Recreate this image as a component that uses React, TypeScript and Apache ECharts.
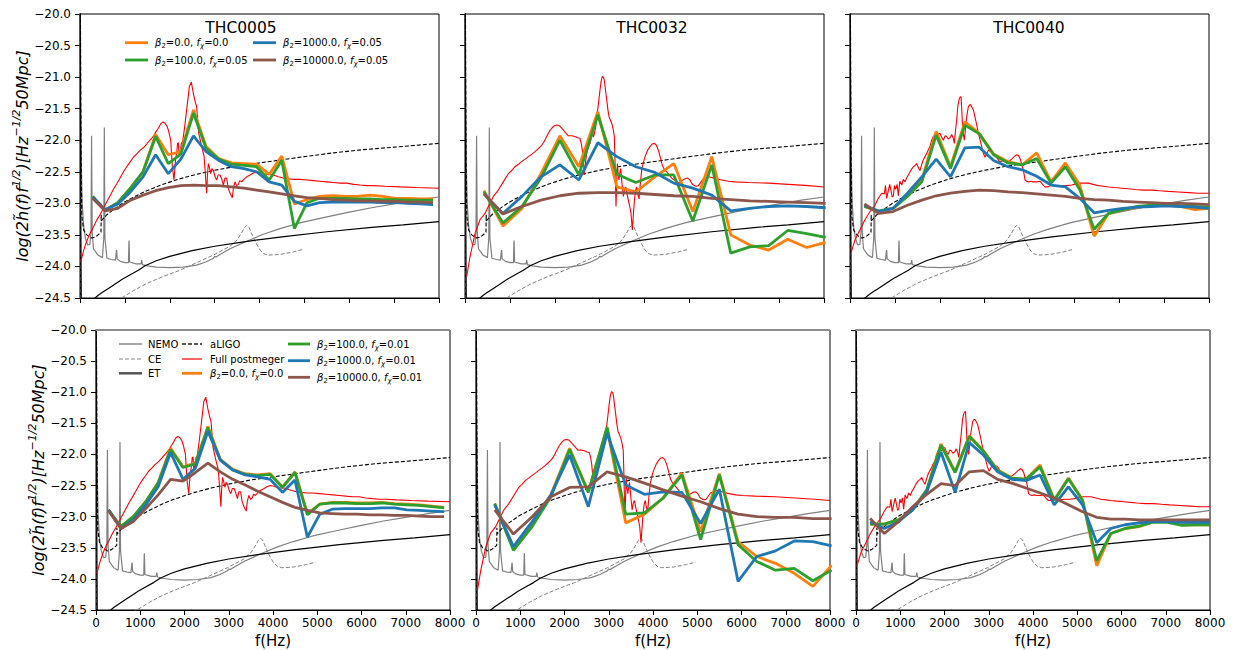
import React, { useEffect, useRef } from 'react';
import * as echarts from 'echarts';

const FONT = 'DejaVu Sans';

const MODELS = ['THC0005', 'THC0032', 'THC0040'];

// Frequency grids (Hz) of the model spectra
const FREQ_THC0005 = [281,562,843,1124,1405,1686,1967,2248,2529,2810,3091,3372,3653,3934,4215,4496,4777,5058,5339,5620,5901,6182,6463,6744,7025,7306,7587,7868];
const FREQ_THC0032 = [423,846,1269,1692,2115,2538,2961,3384,3807,4230,4653,5076,5499,5922,6345,6768,7191,7614,8037];
const FREQ_THC0040 = [320,640,960,1280,1600,1920,2240,2560,2880,3200,3520,3840,4160,4480,4800,5120,5440,5760,6080,6400,6720,7040,7360,7680,8000];

// THC0005, f_chi = 0.05 (top row)
const T5_TOP_B0 = [-22.89,-23.11,-22.99,-22.76,-22.50,-21.91,-22.23,-22.18,-21.52,-22.10,-22.29,-22.36,-22.37,-22.38,-22.54,-22.25,-23.01,-22.94,-22.89,-22.88,-22.89,-22.89,-22.87,-22.89,-22.92,-22.92,-22.93,-22.93];
const T5_TOP_B100 = [-22.89,-23.11,-22.99,-22.76,-22.50,-21.94,-22.37,-22.22,-21.57,-22.13,-22.30,-22.38,-22.40,-22.42,-22.63,-22.32,-23.40,-22.99,-22.92,-22.92,-22.92,-22.93,-22.93,-22.94,-22.94,-22.95,-22.95,-22.95];
const T5_TOP_B1000 = [-22.90,-23.10,-23.01,-22.82,-22.58,-22.23,-22.53,-22.30,-21.93,-22.18,-22.32,-22.42,-22.45,-22.50,-22.66,-22.71,-22.97,-23.04,-22.99,-22.98,-22.98,-22.98,-22.98,-22.99,-22.99,-23.00,-23.01,-23.02];
const T5_TOP_B10000 = [-22.92,-23.12,-23.08,-22.95,-22.87,-22.80,-22.75,-22.72,-22.71,-22.72,-22.72,-22.74,-22.76,-22.79,-22.82,-22.85,-22.88,-22.91,-22.92,-22.94,-22.95,-22.96,-22.96,-22.97,-22.97,-22.98,-22.98,-22.99];
// THC0005, f_chi = 0.01 (bottom row)
const T5_BOT_B0 = [-22.89,-23.16,-23.00,-22.76,-22.45,-21.90,-22.20,-22.14,-21.55,-22.08,-22.24,-22.31,-22.33,-22.31,-22.52,-22.28,-22.95,-22.80,-22.77,-22.77,-22.78,-22.78,-22.77,-22.79,-22.80,-22.81,-22.83,-22.85];
const T5_BOT_B100 = [-22.89,-23.16,-23.00,-22.76,-22.46,-21.92,-22.21,-22.15,-21.57,-22.09,-22.25,-22.32,-22.34,-22.32,-22.53,-22.29,-22.97,-22.80,-22.78,-22.78,-22.79,-22.79,-22.78,-22.80,-22.81,-22.82,-22.84,-22.86];
const T5_BOT_B1000 = [-22.89,-23.19,-23.05,-22.81,-22.52,-21.97,-22.40,-22.22,-21.63,-22.09,-22.25,-22.33,-22.36,-22.40,-22.61,-22.41,-23.33,-22.96,-22.88,-22.87,-22.87,-22.87,-22.86,-22.86,-22.89,-22.90,-22.91,-22.92];
const T5_BOT_B10000 = [-22.90,-23.19,-23.08,-22.87,-22.65,-22.40,-22.43,-22.29,-22.14,-22.28,-22.40,-22.49,-22.59,-22.68,-22.77,-22.85,-22.90,-22.94,-22.95,-22.96,-22.96,-22.97,-22.97,-22.98,-22.98,-22.99,-23.00,-23.00];

// THC0032
const T32_TOP_B0 = [-22.80,-23.36,-23.08,-22.53,-21.93,-22.42,-21.55,-22.74,-22.82,-22.58,-22.37,-23.13,-22.26,-23.50,-23.66,-23.74,-23.57,-23.70,-23.62];
const T32_TOP_B100 = [-22.82,-23.31,-23.05,-22.60,-22.00,-22.55,-21.60,-22.54,-22.67,-22.55,-22.55,-23.28,-22.39,-23.79,-23.69,-23.67,-23.43,-23.48,-23.54];
const T32_TOP_B1000 = [-22.85,-23.16,-22.89,-22.58,-22.39,-22.63,-22.04,-22.26,-22.42,-22.51,-22.68,-22.76,-22.87,-23.12,-23.08,-23.05,-23.04,-23.05,-23.07];
const T32_TOP_B10000 = [-22.85,-23.17,-23.05,-22.95,-22.88,-22.84,-22.83,-22.83,-22.84,-22.86,-22.88,-22.89,-22.92,-22.94,-22.96,-22.97,-22.98,-22.99,-23.00];
const T32_BOT_B0 = [-22.79,-23.51,-23.13,-22.65,-21.90,-22.60,-21.58,-23.10,-22.96,-22.70,-22.30,-23.24,-22.31,-23.40,-23.64,-23.75,-23.91,-24.12,-23.78];
const T32_BOT_B100 = [-22.79,-23.54,-23.16,-22.68,-21.92,-22.61,-21.56,-22.96,-22.94,-22.70,-22.33,-23.37,-22.33,-23.45,-23.72,-23.86,-23.83,-24.03,-23.86];
const T32_BOT_B1000 = [-22.81,-23.48,-23.08,-22.65,-22.01,-22.84,-21.66,-22.49,-22.64,-22.60,-22.61,-23.11,-22.56,-24.04,-23.64,-23.55,-23.39,-23.40,-23.47];
const T32_BOT_B10000 = [-22.89,-23.28,-23.00,-22.68,-22.53,-22.52,-22.28,-22.36,-22.46,-22.57,-22.67,-22.76,-22.87,-22.96,-23.00,-23.01,-23.01,-23.03,-23.03];

// THC0040
const T40_TOP_B0 = [-23.05,-23.13,-23.08,-22.87,-22.63,-21.86,-22.42,-21.71,-21.89,-22.22,-22.34,-22.39,-22.20,-22.66,-22.36,-22.71,-23.52,-23.16,-23.10,-23.06,-23.04,-23.03,-23.05,-23.10,-23.08];
const T40_TOP_B100 = [-23.05,-23.12,-23.08,-22.89,-22.66,-21.92,-22.45,-21.76,-21.90,-22.23,-22.36,-22.39,-22.29,-22.68,-22.42,-22.78,-23.41,-23.16,-23.10,-23.05,-23.03,-23.01,-23.04,-23.05,-23.06];
const T40_TOP_B1000 = [-23.03,-23.13,-23.08,-22.84,-22.58,-22.30,-22.58,-22.12,-22.11,-22.32,-22.42,-22.47,-22.57,-22.71,-22.74,-22.92,-23.15,-23.11,-23.08,-23.06,-23.05,-23.04,-23.05,-23.06,-23.08];
const T40_TOP_B10000 = [-23.01,-23.16,-23.13,-23.03,-22.95,-22.88,-22.84,-22.81,-22.79,-22.80,-22.82,-22.83,-22.85,-22.87,-22.89,-22.92,-22.94,-22.95,-22.97,-22.98,-22.99,-23.00,-23.00,-23.01,-23.02];
const T40_BOT_B0 = [-23.12,-23.12,-23.05,-22.89,-22.57,-21.83,-22.28,-21.70,-21.94,-22.25,-22.38,-22.40,-22.17,-22.73,-22.38,-22.73,-23.79,-23.27,-23.19,-23.16,-23.08,-23.08,-23.13,-23.13,-23.13];
const T40_BOT_B100 = [-23.12,-23.12,-23.05,-22.89,-22.57,-21.85,-22.29,-21.71,-21.95,-22.26,-22.38,-22.40,-22.20,-22.74,-22.39,-22.74,-23.71,-23.27,-23.19,-23.15,-23.09,-23.09,-23.14,-23.13,-23.13];
const T40_BOT_B1000 = [-23.08,-23.19,-23.08,-22.89,-22.60,-21.96,-22.61,-21.81,-22.01,-22.28,-22.40,-22.42,-22.33,-22.81,-22.52,-22.81,-23.42,-23.19,-23.13,-23.10,-23.08,-23.08,-23.09,-23.09,-23.09];
const T40_BOT_B10000 = [-23.03,-23.27,-23.08,-22.84,-22.64,-22.47,-22.50,-22.28,-22.26,-22.40,-22.46,-22.54,-22.62,-22.70,-22.81,-22.92,-23.01,-23.04,-23.04,-23.05,-23.05,-23.05,-23.05,-23.05,-23.05];

// Full postmerger spectra [f, value]
const RED_THC0005 = [[20,-23.92],[80,-23.75],[149,-23.6],[220,-23.48],[297,-23.38],[370,-23.27],[446,-23.18],[520,-23.08],[594,-22.98],[670,-22.88],[743,-22.78],[820,-22.69],[892,-22.6],[970,-22.5],[1040,-22.42],[1110,-22.35],[1189,-22.27],[1260,-22.22],[1337,-22.16],[1410,-22.12],[1486,-22.06],[1560,-22.0],[1634,-21.94],[1700,-21.86],[1746,-21.81],[1800,-21.74],[1850,-21.71],[1895,-21.73],[1940,-21.78],[1969,-21.84],[2021,-22.0],[2058,-22.42],[2095,-22.63],[2130,-22.3],[2155,-22.2],[2175,-22.05],[2192,-22.04],[2210,-22.25],[2229,-22.2],[2260,-22.05],[2288,-22.02],[2330,-21.8],[2377,-21.52],[2437,-21.15],[2481,-21.08],[2526,-21.26],[2570,-21.4],[2600,-21.47],[2625,-21.7],[2645,-21.89],[2680,-22.0],[2712,-22.1],[2764,-22.25],[2790,-22.5],[2823,-22.84],[2840,-22.55],[2860,-22.37],[2890,-22.45],[2912,-22.53],[2940,-22.45],[2972,-22.48],[3010,-22.58],[3046,-22.63],[3080,-22.55],[3120,-22.55],[3160,-22.62],[3195,-22.71],[3230,-22.6],[3269,-22.6],[3300,-22.75],[3343,-22.84],[3395,-22.91],[3420,-22.75],[3455,-22.66],[3490,-22.72],[3529,-22.7],[3560,-22.64],[3603,-22.66],[3650,-22.62],[3715,-22.58],[3790,-22.55],[3863,-22.52],[3940,-22.5],[4012,-22.51],[4100,-22.53],[4160,-22.54],[4240,-22.54],[4309,-22.55],[4420,-22.58],[4532,-22.6],[4640,-22.61],[4755,-22.62],[4900,-22.62],[5052,-22.63],[5200,-22.64],[5349,-22.65],[5500,-22.66],[5646,-22.67],[5800,-22.68],[5944,-22.68],[6100,-22.7],[6241,-22.71],[6400,-22.72],[6538,-22.72],[6800,-22.73],[7132,-22.74],[7500,-22.75],[8000,-22.76]];
const RED_THC0032 = [[37,-24.16],[111,-23.85],[223,-23.48],[334,-23.26],[446,-23.16],[520,-23.05],[632,-22.89],[743,-22.79],[854,-22.66],[966,-22.53],[1040,-22.48],[1114,-22.42],[1190,-22.38],[1263,-22.34],[1340,-22.3],[1412,-22.26],[1490,-22.22],[1560,-22.18],[1640,-22.13],[1709,-22.08],[1765,-22.02],[1820,-21.94],[1880,-21.86],[1932,-21.81],[1990,-21.77],[2043,-21.76],[2100,-21.77],[2155,-21.81],[2230,-21.87],[2303,-21.93],[2380,-21.93],[2452,-21.94],[2510,-21.96],[2563,-21.97],[2590,-22.05],[2615,-22.16],[2640,-22.35],[2660,-22.55],[2685,-22.35],[2712,-22.21],[2750,-22.1],[2786,-22.05],[2838,-21.86],[2860,-21.95],[2883,-21.9],[2912,-21.79],[2935,-21.65],[2957,-21.52],[2985,-21.35],[3009,-21.2],[3035,-21.06],[3061,-20.99],[3085,-21.0],[3105,-21.05],[3130,-21.2],[3158,-21.36],[3185,-21.52],[3210,-21.63],[3240,-21.68],[3269,-21.73],[3300,-21.82],[3328,-21.94],[3345,-22.4],[3365,-23.05],[3380,-22.7],[3395,-22.37],[3415,-22.55],[3432,-22.63],[3450,-22.52],[3470,-22.45],[3500,-22.7],[3529,-22.89],[3555,-22.78],[3581,-22.74],[3610,-22.85],[3640,-22.95],[3670,-23.05],[3700,-23.16],[3729,-23.42],[3750,-23.2],[3774,-22.96],[3800,-22.8],[3826,-22.74],[3850,-22.85],[3878,-22.93],[3905,-22.7],[3938,-22.47],[3975,-22.35],[4012,-22.26],[4070,-22.16],[4123,-22.1],[4170,-22.06],[4220,-22.05],[4265,-22.08],[4309,-22.16],[4355,-22.28],[4398,-22.4],[4450,-22.47],[4495,-22.5],[4550,-22.55],[4606,-22.6],[4680,-22.64],[4755,-22.68],[4830,-22.64],[4903,-22.61],[4960,-22.6],[5015,-22.63],[5050,-22.68],[5089,-22.71],[5150,-22.73],[5201,-22.72],[5300,-22.62],[5423,-22.58],[5550,-22.6],[5720,-22.63],[5870,-22.65],[6018,-22.66],[6315,-22.67],[6761,-22.68],[7207,-22.7],[7652,-22.72],[8000,-22.74]];
const RED_THC0040 = [[22,-23.79],[111,-23.58],[223,-23.42],[334,-23.26],[446,-23.13],[557,-23.03],[632,-22.92],[706,-22.84],[765,-22.85],[790,-22.72],[817,-22.92],[854,-22.8],[885,-22.7],[914,-22.8],[940,-22.9],[966,-22.88],[990,-22.72],[1018,-22.78],[1050,-22.7],[1077,-22.88],[1110,-22.65],[1152,-22.71],[1190,-22.62],[1226,-22.66],[1260,-22.6],[1300,-22.55],[1360,-22.47],[1412,-22.42],[1450,-22.4],[1486,-22.37],[1520,-22.43],[1560,-22.48],[1600,-22.38],[1634,-22.31],[1670,-22.26],[1709,-22.21],[1745,-22.15],[1783,-22.1],[1820,-22.0],[1857,-21.94],[1895,-21.92],[1932,-21.94],[1970,-21.9],[2006,-21.89],[2040,-21.95],[2080,-22.0],[2120,-21.93],[2155,-21.94],[2190,-21.98],[2229,-21.96],[2266,-21.91],[2300,-21.97],[2325,-22.05],[2350,-21.85],[2377,-21.68],[2405,-21.45],[2429,-21.36],[2450,-21.32],[2474,-21.31],[2490,-21.5],[2504,-21.73],[2525,-21.9],[2548,-22.0],[2575,-21.8],[2600,-21.63],[2637,-21.47],[2665,-21.44],[2690,-21.44],[2720,-21.48],[2749,-21.52],[2775,-21.6],[2801,-21.68],[2830,-21.78],[2860,-21.89],[2900,-22.0],[2935,-22.1],[2970,-22.2],[3009,-22.27],[3045,-22.22],[3083,-22.16],[3120,-22.17],[3158,-22.18],[3200,-22.2],[3247,-22.25],[3295,-22.3],[3343,-22.35],[3380,-22.33],[3417,-22.32],[3455,-22.34],[3492,-22.36],[3550,-22.33],[3603,-22.3],[3660,-22.26],[3715,-22.23],[3750,-22.24],[3789,-22.29],[3825,-22.38],[3863,-22.47],[3900,-22.63],[3940,-22.65],[3975,-22.66],[4030,-22.65],[4086,-22.66],[4160,-22.66],[4235,-22.65],[4290,-22.7],[4346,-22.74],[4421,-22.74],[4495,-22.7],[4550,-22.72],[4606,-22.73],[4718,-22.72],[4829,-22.72],[4941,-22.71],[5089,-22.68],[5200,-22.68],[5312,-22.68],[5420,-22.7],[5535,-22.72],[5650,-22.73],[5758,-22.74],[5900,-22.75],[6055,-22.76],[6200,-22.77],[6352,-22.78],[6540,-22.79],[6724,-22.79],[6900,-22.8],[7095,-22.81],[7320,-22.82],[7541,-22.83],[7770,-22.84],[8000,-22.84]];

// Detector sensitivity curves [f, value]
const NEMO = [[5,-19.6],[15,-21.0],[30,-22.4],[50,-23.0],[80,-23.35],[120,-23.55],[170,-23.66],[220,-23.65],[245,-23.45],[258,-21.93],[272,-23.45],[300,-23.72],[400,-23.82],[500,-23.86],[530,-23.55],[542,-21.8],[555,-23.55],[600,-23.87],[700,-23.89],[790,-23.9],[810,-23.76],[817,-23.74],[828,-23.88],[900,-23.92],[1000,-23.94],[1080,-23.94],[1090,-23.62],[1094,-23.59],[1105,-23.93],[1250,-23.96],[1360,-23.96],[1375,-23.9],[1390,-23.97],[1500,-23.99],[1700,-24.01],[2000,-24.02],[2300,-24.01],[2600,-23.98],[2800,-23.93],[2972,-23.87],[3000,-23.84],[3030,-23.85],[3100,-23.82],[3343,-23.72],[3715,-23.6],[4086,-23.49],[4458,-23.4],[4900,-23.31],[5400,-23.23],[6000,-23.14],[6500,-23.07],[7000,-23.01],[7500,-22.95],[8000,-22.9]];
const CE = [[4,-19.6],[10,-22.0],[16,-24.0],[20,-24.8],[30,-26],[500,-25.6],[854,-24.53],[1200,-24.38],[1486,-24.27],[1850,-24.16],[2229,-24.06],[2600,-23.94],[2972,-23.82],[3343,-23.68],[3500,-23.58],[3600,-23.47],[3670,-23.38],[3715,-23.35],[3760,-23.37],[3820,-23.47],[3900,-23.6],[4012,-23.74],[4100,-23.8],[4198,-23.82],[4458,-23.81],[4755,-23.77],[4963,-23.73]];
const ET = [[3,-19.5],[10,-21.5],[20,-23.6],[30,-24.8],[60,-26],[200,-25.2],[300,-24.52],[400,-24.46],[500,-24.41],[650,-24.34],[800,-24.27],[950,-24.2],[1100,-24.14],[1300,-24.06],[1450,-23.99],[1700,-23.91],[2000,-23.84],[2500,-23.75],[3000,-23.68],[3650,-23.61],[4500,-23.53],[5500,-23.45],[6500,-23.38],[7200,-23.34],[8000,-23.29]];
const ALIGO = [[8,-19.6],[15,-21.0],[25,-22.4],[40,-23.2],[80,-23.42],[150,-23.5],[260,-23.55],[350,-23.53],[420,-23.49],[468,-23.46],[472,-23.18],[476,-23.28],[520,-23.24],[600,-23.18],[743,-23.1],[966,-22.99],[1200,-22.9],[1486,-22.8],[1800,-22.71],[2229,-22.61],[2600,-22.54],[2972,-22.48],[3500,-22.41],[3900,-22.37],[4500,-22.31],[5000,-22.26],[5646,-22.2],[6300,-22.15],[7000,-22.11],[7500,-22.08],[8000,-22.05]];

const X_TICKS = { min: 0, max: 8000, interval: 1000 };
const Y_TICKS = { min: -24.5, max: -20, interval: 0.5 };

const C_B0 = '#ff7f0e';
const C_B100 = '#2ca02c';
const C_B1000 = '#1f77b4';
const C_B10000 = '#8c564b';
const C_RED = '#ff0000';

const PANELS = [
  { row: 0, col: 0, left: 80, top: 14, width: 359, height: 284 },
  { row: 0, col: 1, left: 465, top: 14, width: 359, height: 284 },
  { row: 0, col: 2, left: 850, top: 14, width: 359, height: 284 },
  { row: 1, col: 0, left: 96, top: 330, width: 354, height: 280 },
  { row: 1, col: 1, left: 476, top: 330, width: 354, height: 280 },
  { row: 1, col: 2, left: 856, top: 330, width: 354, height: 280 },
];

const FREQS = [FREQ_THC0005, FREQ_THC0032, FREQ_THC0040];
const REDS = [RED_THC0005, RED_THC0032, RED_THC0040];
const MODEL_SERIES = [
  [[T5_TOP_B0, T5_TOP_B100, T5_TOP_B1000, T5_TOP_B10000], [T5_BOT_B0, T5_BOT_B100, T5_BOT_B1000, T5_BOT_B10000]],
  [[T32_TOP_B0, T32_TOP_B100, T32_TOP_B1000, T32_TOP_B10000], [T32_BOT_B0, T32_BOT_B100, T32_BOT_B1000, T32_BOT_B10000]],
  [[T40_TOP_B0, T40_TOP_B100, T40_TOP_B1000, T40_TOP_B10000], [T40_BOT_B0, T40_BOT_B100, T40_BOT_B1000, T40_BOT_B10000]],
];
const MODEL_COLORS = [C_B0, C_B100, C_B1000, C_B10000];

const YLABEL = '{m|log(2h\u0303(f)f}{p|1/2}{m|)[Hz}{p|\u22121/2}{m|50Mpc]}';

const legendRich = {
  n: { fontSize: 10, fontFamily: FONT, lineHeight: 14, color: '#000' },
  i: { fontSize: 10, fontFamily: FONT, fontStyle: 'italic', lineHeight: 14, color: '#000' },
  s: { fontSize: 7, fontFamily: FONT, lineHeight: 8, verticalAlign: 'bottom', color: '#000' },
  si: { fontSize: 7, fontFamily: FONT, fontStyle: 'italic', lineHeight: 8, verticalAlign: 'bottom', color: '#000' },
};

function betaLabel(beta: string, fx: string) {
  return `{i|\u03b2}{s|2}{n|=${beta}, }{i|f}{si|\u03c7}{n|=${fx}}`;
}

function legendItem(x1: number, x2: number, y: number, tx: number, text: string, color: string, width: number, dash?: number[]) {
  return [
    { type: 'line', z: 100, shape: { x1, y1: y, x2, y2: y }, style: { stroke: color, lineWidth: width, lineDash: dash || null } },
    { type: 'text', z: 100, x: tx, y, style: { text, rich: legendRich, fill: '#000', fontSize: 10, fontFamily: FONT, align: 'left', verticalAlign: 'middle' } },
  ];
}

function zip(f: number[], v: number[]) {
  return f.map((x, k) => [x, v[k]]);
}

function buildOption() {
  const grid: any[] = [];
  const xAxis: any[] = [];
  const yAxis: any[] = [];
  const series: any[] = [];

  PANELS.forEach((p, gi) => {
    const bottomRow = p.row === 1;
    const leftCol = p.col === 0;
    grid.push({ left: p.left, top: p.top, width: p.width, height: p.height, show: true, borderColor: '#000', borderWidth: 1, backgroundColor: 'transparent' });
    xAxis.push({
      gridIndex: gi, type: 'value', ...X_TICKS,
      axisLine: { show: true, onZero: false, lineStyle: { color: '#000', width: 1 } },
      axisTick: { show: true, length: 5, lineStyle: { color: '#000' } },
      axisLabel: { show: bottomRow, color: '#000', fontSize: 12, fontFamily: FONT, margin: 7, showMinLabel: true, showMaxLabel: true,
        formatter: (v: number) => String(Math.round(v)) },
      splitLine: { show: false },
      name: bottomRow ? 'f(Hz)' : '', nameLocation: 'middle', nameGap: 23,
      nameTextStyle: { color: '#000', fontSize: 15, fontFamily: FONT },
    });
    yAxis.push({
      gridIndex: gi, type: 'value', ...Y_TICKS,
      axisLine: { show: true, onZero: false, lineStyle: { color: '#000', width: 1 } },
      axisTick: { show: true, length: 5, lineStyle: { color: '#000' } },
      axisLabel: { show: leftCol, color: '#000', fontSize: 12, fontFamily: FONT, margin: 9, showMinLabel: true, showMaxLabel: true,
        formatter: (v: number) => v.toFixed(1).replace('-', '\u2212') },
      splitLine: { show: false },
      name: leftCol ? YLABEL : '', nameLocation: 'middle', nameGap: 44, nameRotate: 90,
      nameTextStyle: {
        color: '#000', fontSize: 16, fontFamily: FONT, fontStyle: 'italic',
        rich: {
          m: { fontSize: 16, fontFamily: FONT, fontStyle: 'italic', lineHeight: 22, color: '#000' },
          p: { fontSize: 11, fontFamily: FONT, fontStyle: 'italic', lineHeight: 11, verticalAlign: 'top', color: '#000' },
        },
      },
    });

    const line = (name: string, data: any[], color: string, width: number, dash?: any) => ({
      type: 'line', name, data, xAxisIndex: gi, yAxisIndex: gi, showSymbol: false, symbol: 'none', silent: true, clip: true,
      animation: false, lineStyle: { color, width, type: dash || 'solid' }, emphasis: { disabled: true },
    });

    series.push(line('NEMO', NEMO, '#808080', 1.2));
    series.push(line('CE', CE, '#808080', 1, [4, 2]));
    series.push(line('ET', ET, '#000000', 1.2));
    series.push(line('aLIGO', ALIGO, '#000000', 1.1, [4, 2]));
    series.push(line('Full postmeger', REDS[p.col], C_RED, 1.1));
    const sets = MODEL_SERIES[p.col][p.row];
    sets.forEach((vals, k) => {
      series.push(line('m' + k, zip(FREQS[p.col], vals), MODEL_COLORS[k], 2.8));
    });
  });

  const graphic: any[] = [];
  // Titles
  const titleX = [241, 652, 1029];
  MODELS.forEach((m, k) => {
    graphic.push({ type: 'text', z: 100, x: titleX[k], y: 27.5, style: { text: m, fill: '#000', fontSize: 15.5, fontFamily: FONT, align: 'center', verticalAlign: 'middle' } });
  });
  // gray top edge on bottom row
  PANELS.filter(p => p.row === 1).forEach(p => {
    graphic.push({ type: 'line', z: 90, shape: { x1: p.left, y1: p.top, x2: p.left + p.width, y2: p.top }, style: { stroke: '#8c8c8c', lineWidth: 2 } });
  });
  // Top-left legend
  graphic.push(...legendItem(125, 148, 42.7, 155, betaLabel('0.0', '0.0'), C_B0, 2.8));
  graphic.push(...legendItem(125, 148, 60, 155, betaLabel('100.0', '0.05'), C_B100, 2.8));
  graphic.push(...legendItem(253, 276, 42.7, 283, betaLabel('1000.0', '0.05'), C_B1000, 2.8));
  graphic.push(...legendItem(253, 276, 60, 283, betaLabel('10000.0', '0.05'), C_B10000, 2.8));
  // Bottom-left legend
  graphic.push(...legendItem(119, 142, 344, 148, '{n|NEMO}', '#a8a8a8', 2));
  graphic.push(...legendItem(119, 142, 359, 148, '{n|CE}', '#888888', 1.1, [4, 2]));
  graphic.push(...legendItem(119, 142, 373.3, 148, '{n|ET}', '#555555', 2.5));
  graphic.push(...legendItem(182, 202, 344, 210, '{n|aLIGO}', '#222222', 1.6, [4, 2]));
  graphic.push(...legendItem(182, 202, 359, 210, '{n|Full postmeger}', C_RED, 1.2));
  graphic.push(...legendItem(182, 202, 373.3, 210, betaLabel('0.0', '0.0'), C_B0, 2.8));
  graphic.push(...legendItem(288, 310, 344, 317, betaLabel('100.0', '0.01'), C_B100, 2.8));
  graphic.push(...legendItem(288, 310, 360.7, 317, betaLabel('1000.0', '0.01'), C_B1000, 2.8));
  graphic.push(...legendItem(288, 310, 377.3, 317, betaLabel('10000.0', '0.01'), C_B10000, 2.8));

  return {
    animation: false,
    backgroundColor: '#ffffff',
    textStyle: { fontFamily: FONT },
    grid, xAxis, yAxis, series, graphic,
  };
}

export default function App() {
  const ref = useRef<HTMLDivElement>(null);
  useEffect(() => {
    if (!ref.current) return;
    const chart = echarts.init(ref.current, undefined, { renderer: 'svg' });
    chart.setOption(buildOption() as any);
    return () => chart.dispose();
  }, []);
  return <div ref={ref} style={{ position: 'absolute', left: 0, top: 0, width: 1233, height: 650, background: '#fff' }} />;
}
